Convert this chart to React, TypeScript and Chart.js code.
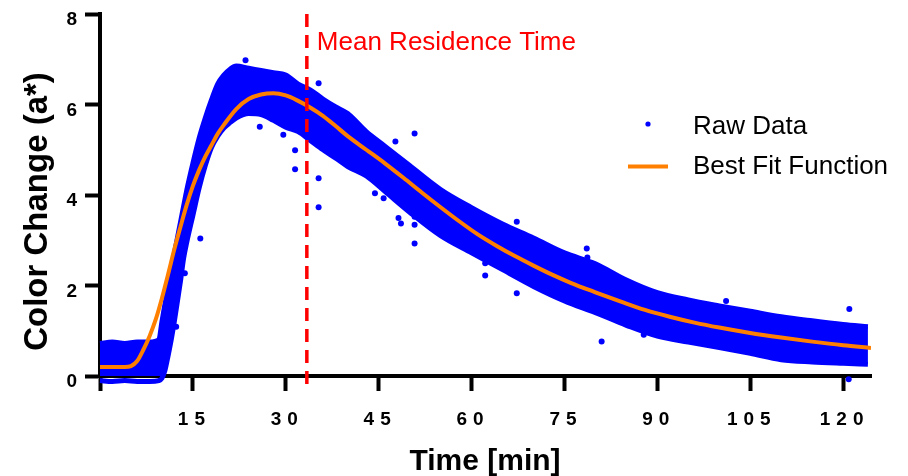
import { useEffect, useRef } from "react";
import { Chart, registerables } from "chart.js";

Chart.register(...registerables);

// Best fit curve (min, a*)
const fitX = [0, 2, 4, 5, 6, 7, 8, 9, 10, 11, 12, 13, 14, 15, 16, 17, 18, 19, 20, 22, 24, 26, 28, 30, 32, 34, 36, 38, 40, 43, 46, 49, 52, 55, 58, 61, 64, 67, 70, 73, 76, 80, 84, 88, 92, 96, 100, 105, 110, 115, 120, 124.5];
const fitY = [0.2, 0.2, 0.2, 0.22, 0.33, 0.58, 0.88, 1.25, 1.72, 2.25, 2.8, 3.3, 3.78, 4.2, 4.55, 4.85, 5.1, 5.35, 5.55, 5.9, 6.12, 6.22, 6.25, 6.2, 6.08, 5.93, 5.75, 5.53, 5.3, 5.0, 4.7, 4.38, 4.05, 3.73, 3.42, 3.13, 2.88, 2.65, 2.44, 2.24, 2.06, 1.85, 1.65, 1.46, 1.31, 1.18, 1.07, 0.95, 0.85, 0.76, 0.68, 0.62];

// Raw data cloud: upper / lower envelope of the dense point band
const bandX = [0, 2, 4, 6, 8, 9.5, 10, 10.5, 11, 11.5, 12, 12.5, 13, 13.5, 14, 15, 16, 17, 18, 19, 20, 21, 22, 24, 26, 28, 30, 32, 34, 36, 38, 40, 43, 46, 50, 55, 60, 65, 70, 75, 80, 85, 90, 95, 100, 105, 110, 115, 120, 124];
const bandUpper = [0.72, 0.75, 0.72, 0.75, 0.75, 0.8, 1.2, 1.6, 1.95, 2.3, 2.7, 3.05, 3.4, 3.75, 4.1, 4.7, 5.25, 5.7, 6.1, 6.45, 6.65, 6.78, 6.85, 6.8, 6.75, 6.7, 6.65, 6.45, 6.32, 6.12, 5.95, 5.8, 5.4, 5.08, 4.65, 4.12, 3.72, 3.36, 3.05, 2.72, 2.48, 2.12, 1.84, 1.68, 1.55, 1.43, 1.31, 1.22, 1.14, 1.09];
const bandLower = [-0.1, -0.12, -0.1, -0.12, -0.12, -0.1, -0.05, 0.13, 0.45, 0.8, 1.2, 1.65, 2.1, 2.6, 2.95, 3.55, 4.15, 4.65, 5.05, 5.3, 5.48, 5.6, 5.7, 5.8, 5.78, 5.65, 5.5, 5.4, 5.2, 5.0, 4.82, 4.63, 4.42, 4.08, 3.62, 3.1, 2.72, 2.35, 1.98, 1.66, 1.4, 1.12, 0.88, 0.75, 0.63, 0.5, 0.36, 0.31, 0.28, 0.26];

// Scattered raw-data points outside the main band
const outlierX = [3.3, 12.3, 13.7, 16.2, 23.5, 25.8, 29.6, 31.5, 31.5, 35.3, 35.3, 35.3, 44.4, 45.8, 47.7, 48.2, 48.6, 50.8, 50.8, 50.8, 50.8, 62.2, 62.2, 67.3, 67.2, 67.3, 78.6, 78.7, 81, 87.8, 101.1, 121, 120.9];
const outlierY = [-0.3, 1.09, 2.27, 3.04, 6.98, 5.51, 5.33, 4.99, 4.57, 6.47, 4.37, 3.73, 4.04, 3.93, 5.18, 3.49, 3.37, 5.36, 3.52, 3.34, 2.93, 2.49, 2.22, 3.41, 3.19, 1.83, 2.82, 2.62, 0.76, 0.91, 1.66, 1.48, -0.07];

const xTickValues = [15, 30, 45, 60, 75, 90, 105, 120];
const yTickValues = [0, 2, 4, 6, 8];
const meanResidenceTime = 33.4;

const xTitle = "Time [min]";
const yTitle = "Color Change (a*)";
const mrtLabel = "Mean Residence Time";
const legendLabels = ["Raw Data", "Best Fit Function"];

const BLUE = "#0000FF";
const ORANGE = "#FF8000";
const RED = "#FF0000";
const FONT = '"Liberation Sans", Arial, Helvetica, sans-serif';

const decorPlugin = {
  id: "decor",
  afterDraw(chart: any) {
    const { ctx, chartArea } = chart;
    const xs = chart.scales.x;
    const ys = chart.scales.y;
    ctx.save();

    // Mean residence time dashed line
    const mx = xs.getPixelForValue(meanResidenceTime);
    ctx.strokeStyle = RED;
    ctx.lineWidth = 3.5;
    ctx.setLineDash([13, 8]);
    ctx.beginPath();
    ctx.moveTo(mx, chartArea.top);
    ctx.lineTo(mx, chartArea.bottom + 12);
    ctx.stroke();
    ctx.setLineDash([]);

    ctx.fillStyle = RED;
    ctx.font = `26px ${FONT}`;
    ctx.textAlign = "left";
    ctx.textBaseline = "alphabetic";
    ctx.fillText(mrtLabel, mx + 10, 50);

    // Tick labels
    ctx.fillStyle = "#000";
    ctx.font = `bold 19px ${FONT}`;
    const spacing = 6;
    xTickValues.forEach((v) => {
      const s = String(v);
      const widths = s.split("").map((c) => ctx.measureText(c).width);
      const total = widths.reduce((a, b) => a + b, 0) + spacing * (s.length - 1);
      let x = xs.getPixelForValue(v) - total / 2 - 1.5;
      ctx.textAlign = "left";
      s.split("").forEach((c, i) => {
        ctx.fillText(c, x, 425);
        x += widths[i] + spacing;
      });
    });
    ctx.textAlign = "right";
    yTickValues.forEach((v) => {
      ctx.fillText(String(v), 77, ys.getPixelForValue(v) + 11);
    });

    // Axis titles
    ctx.font = `bold 30px ${FONT}`;
    ctx.textAlign = "center";
    ctx.fillText(xTitle, 485, 470);
    ctx.save();
    ctx.translate(47, 211.5);
    ctx.rotate(-Math.PI / 2);
    ctx.font = `bold 33px ${FONT}`;
    ctx.fillText(yTitle, 0, 0);
    ctx.restore();

    // Legend
    ctx.fillStyle = BLUE;
    ctx.beginPath();
    ctx.arc(648, 124, 2.6, 0, Math.PI * 2);
    ctx.fill();
    ctx.strokeStyle = ORANGE;
    ctx.lineWidth = 4;
    ctx.beginPath();
    ctx.moveTo(628, 166.5);
    ctx.lineTo(668, 166.5);
    ctx.stroke();
    ctx.fillStyle = "#000";
    ctx.font = `26px ${FONT}`;
    ctx.textAlign = "left";
    ctx.fillText(legendLabels[0], 693, 134);
    ctx.fillText(legendLabels[1], 693, 174);

    ctx.restore();
  },
};

export default function App() {
  const ref = useRef<HTMLCanvasElement>(null);

  useEffect(() => {
    if (!ref.current) return;
    const chart = new Chart(ref.current, {
      type: "line",
      data: {
        datasets: [
          {
            label: legendLabels[1],
            data: fitX.map((x, i) => ({ x, y: fitY[i] })),
            borderColor: ORANGE,
            borderWidth: 4,
            pointRadius: 0,
            fill: false,
            cubicInterpolationMode: "monotone",
          },
          {
            label: "Raw Data outliers",
            data: outlierX.map((x, i) => ({ x, y: outlierY[i] })),
            showLine: false,
            pointRadius: 3,
            pointBorderWidth: 0,
            pointBackgroundColor: BLUE,
            borderColor: BLUE,
            clip: false,
          },
          {
            label: "Raw Data lower",
            data: bandX.map((x, i) => ({ x, y: bandLower[i] })),
            borderColor: BLUE,
            borderWidth: 5,
            pointRadius: 0,
            fill: false,
            clip: false,
            cubicInterpolationMode: "monotone",
          },
          {
            label: legendLabels[0],
            data: bandX.map((x, i) => ({ x, y: bandUpper[i] })),
            borderColor: BLUE,
            borderWidth: 5,
            backgroundColor: BLUE,
            pointRadius: 0,
            fill: 2,
            clip: false,
            cubicInterpolationMode: "monotone",
          },
        ],
      } as any,
      options: {
        animation: false,
        responsive: true,
        maintainAspectRatio: false,
        layout: { padding: { top: 14, right: 37, left: 0, bottom: 0 } },
        plugins: { legend: { display: false }, tooltip: { enabled: false } },
        scales: {
          x: {
            type: "linear",
            min: 0,
            max: 124.5,
            z: 1,
            afterFit: (s: any) => {
              s.height = 100;
            },
            border: { display: true, color: "#000", width: 4 },
            grid: {
              display: true,
              drawOnChartArea: false,
              drawTicks: true,
              tickLength: 15,
              tickWidth: 4,
              tickColor: "#000",
              color: "#000",
            },
            ticks: { display: false, stepSize: 15, includeBounds: false },
          },
          y: {
            type: "linear",
            min: 0,
            max: 8,
            z: 1,
            afterFit: (s: any) => {
              s.width = 100;
            },
            border: { display: true, color: "#000", width: 4 },
            grid: {
              display: true,
              drawOnChartArea: false,
              drawTicks: true,
              tickLength: 15,
              tickWidth: 4,
              tickColor: "#000",
              color: "#000",
            },
            ticks: { display: false, stepSize: 2, includeBounds: false },
          },
        },
      } as any,
      plugins: [decorPlugin],
    });
    return () => chart.destroy();
  }, []);

  return (
    <div style={{ position: "fixed", left: 0, top: 0, width: 908, height: 476, background: "#fff" }}>
      <canvas ref={ref} />
    </div>
  );
}
